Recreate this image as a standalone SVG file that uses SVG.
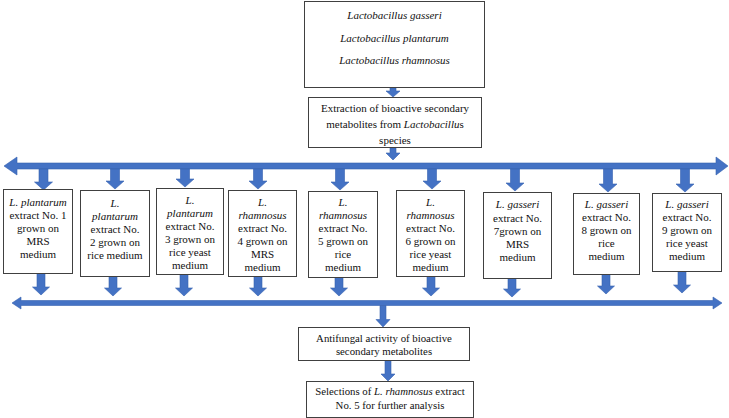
<svg xmlns="http://www.w3.org/2000/svg" width="729" height="418" viewBox="0 0 729 418">
<style>
.box{fill:#fff;stroke:#404040;stroke-width:1}
.t{font-family:"Liberation Serif","Times New Roman","DejaVu Serif",serif;font-size:11px;fill:#111;text-anchor:middle}
.s{font-size:10.8px}
.i{font-style:italic}
.ar{fill:#4472C4;stroke:#3561b0;stroke-width:0.6}
</style>
<rect width="729" height="418" fill="#fff"/>
<g id="connectors">
<path class="ar" d="M390,88 h6 v3 h4 l-7,6 l-7,-6 h4 z"/>
<path class="ar" d="M390,148 h6 v5 h4 l-7,7 l-7,-7 h4 z"/>
<path class="ar" d="M4,166 L17,157 V163 H716 V157 L728,166 L716,175 V169 H17 V175 Z"/>
<path class="ar" d="M39,169 h9 v13 h4.5 l-9,8 l-9,-8 h4.5 z"/>
<path class="ar" d="M110.5,169 h9 v12 h4.5 l-9,8 l-9,-8 h4.5 z"/>
<path class="ar" d="M180.5,169 h9 v10 h4.5 l-9,8 l-9,-8 h4.5 z"/>
<path class="ar" d="M253.5,169 h9 v12 h4.5 l-9,8 l-9,-8 h4.5 z"/>
<path class="ar" d="M335.5,169 h9 v13 h4.5 l-9,8 l-9,-8 h4.5 z"/>
<path class="ar" d="M427.5,169 h9 v12 h4.5 l-9,8 l-9,-8 h4.5 z"/>
<path class="ar" d="M510.5,169 h9 v14 h4.5 l-9,8 l-9,-8 h4.5 z"/>
<path class="ar" d="M603.5,169 h9 v15 h4.5 l-9,8 l-9,-8 h4.5 z"/>
<path class="ar" d="M680.5,169 h9 v15 h4.5 l-9,8 l-9,-8 h4.5 z"/>
<path class="ar" d="M37,273 h8 v14 h4.5 l-8.5,8 l-8.5,-8 h4.5 z"/>
<path class="ar" d="M109,276 h8 v12 h4.5 l-8.5,8 l-8.5,-8 h4.5 z"/>
<path class="ar" d="M180,274 h8 v14 h4.5 l-8.5,8 l-8.5,-8 h4.5 z"/>
<path class="ar" d="M254,276 h8 v12 h4.5 l-8.5,8 l-8.5,-8 h4.5 z"/>
<path class="ar" d="M335,277 h8 v11 h4.5 l-8.5,8 l-8.5,-8 h4.5 z"/>
<path class="ar" d="M427,276 h8 v12 h4.5 l-8.5,8 l-8.5,-8 h4.5 z"/>
<path class="ar" d="M508,278 h8 v11 h4.5 l-8.5,8 l-8.5,-8 h4.5 z"/>
<path class="ar" d="M602,274 h8 v12 h4.5 l-8.5,8 l-8.5,-8 h4.5 z"/>
<path class="ar" d="M678,271 h8 v14 h4.5 l-8.5,8 l-8.5,-8 h4.5 z"/>
<path class="ar" d="M12,303 L21,297 V300.5 H713 V297 L722,303 L713,309 V305.5 H21 V309 Z"/>
<path class="ar" d="M380,305.5 h6 v14 h4 l-7,7.5 l-7,-7.5 h4 z"/>
<path class="ar" d="M385,360 h6 v14 h4 l-7,7 l-7,-7 h4 z"/>
</g>
<g id="n-species">
<rect class="box" x="304.5" y="1.5" width="180" height="86"/>
<text class="t i" x="394.5" y="19">Lactobacillus gasseri</text>
<text class="t i" x="394.5" y="42">Lactobacillus plantarum</text>
<text class="t i" x="394.5" y="64">Lactobacillus rhamnosus</text>
</g>
<g id="n-extraction">
<rect class="box" x="308.5" y="97.5" width="173" height="50"/>
<text class="t" x="395" y="112">Extraction of bioactive secondary</text>
<text class="t" x="395" y="128">metabolites from <tspan class="i">Lactobacillu</tspan>s</text>
<text class="t" x="395" y="144">species</text>
</g>
<g id="n-ex1">
<rect class="box" x="3.5" y="189.5" width="69" height="84"/>
<text class="t i" x="38" y="206">L. plantarum</text>
<text class="t" x="38" y="219">extract No. 1</text>
<text class="t" x="38" y="232">grown on</text>
<text class="t" x="38" y="245">MRS</text>
<text class="t" x="38" y="258">medium</text>
</g>
<g id="n-ex2">
<rect class="box" x="80.5" y="190.5" width="69" height="86"/>
<text class="t i" x="115" y="207" font-size="12px">L.</text>
<text class="t i" x="115" y="220">plantarum</text>
<text class="t" x="115" y="233">extract No.</text>
<text class="t" x="115" y="246">2 grown on</text>
<text class="t" x="115" y="259">rice medium</text>
</g>
<g id="n-ex3">
<rect class="box" x="156.5" y="188.5" width="67" height="86"/>
<text class="t i" x="190" y="204">L.</text>
<text class="t i" x="190" y="217">plantarum</text>
<text class="t" x="190" y="230">extract No.</text>
<text class="t" x="190" y="243">3 grown on</text>
<text class="t" x="190" y="256">rice yeast</text>
<text class="t" x="190" y="269">medium</text>
</g>
<g id="n-ex4">
<rect class="box" x="228.5" y="190.5" width="68" height="86"/>
<text class="t i" x="262.5" y="206">L.</text>
<text class="t i" x="262.5" y="219">rhamnosus</text>
<text class="t" x="262.5" y="232">extract No.</text>
<text class="t" x="262.5" y="245">4 grown on</text>
<text class="t" x="262.5" y="258">MRS</text>
<text class="t" x="262.5" y="271">medium</text>
</g>
<g id="n-ex5">
<rect class="box" x="308.5" y="191.5" width="69" height="86"/>
<text class="t i" x="343" y="206">L.</text>
<text class="t i" x="343" y="219">rhamnosus</text>
<text class="t" x="343" y="232">extract No.</text>
<text class="t" x="343" y="245">5 grown on</text>
<text class="t" x="343" y="258">rice</text>
<text class="t" x="343" y="271">medium</text>
</g>
<g id="n-ex6">
<rect class="box" x="396.5" y="190.5" width="68" height="86"/>
<text class="t i" x="430.5" y="206">L.</text>
<text class="t i" x="430.5" y="219">rhamnosus</text>
<text class="t" x="430.5" y="232">extract No.</text>
<text class="t" x="430.5" y="245">6 grown on</text>
<text class="t" x="430.5" y="258">rice yeast</text>
<text class="t" x="430.5" y="271">medium</text>
</g>
<g id="n-ex7">
<rect class="box" x="483.5" y="192.5" width="68" height="86"/>
<text class="t i" x="517.5" y="208">L. gasseri</text>
<text class="t" x="517.5" y="222">extract No.</text>
<text class="t" x="517.5" y="235">7grown on</text>
<text class="t" x="517.5" y="248">MRS</text>
<text class="t" x="517.5" y="261">medium</text>
</g>
<g id="n-ex8">
<rect class="box" x="573.5" y="193.5" width="66" height="81"/>
<text class="t i" x="606.5" y="208">L. gasseri</text>
<text class="t" x="606.5" y="221">extract No.</text>
<text class="t" x="606.5" y="234">8 grown on</text>
<text class="t" x="606.5" y="247">rice</text>
<text class="t" x="606.5" y="260">medium</text>
</g>
<g id="n-ex9">
<rect class="box" x="652.5" y="193.5" width="69" height="78"/>
<text class="t i" x="687" y="208">L. gasseri</text>
<text class="t" x="687" y="221">extract No.</text>
<text class="t" x="687" y="234">9 grown on</text>
<text class="t" x="687" y="247">rice yeast</text>
<text class="t" x="687" y="260">medium</text>
</g>
<g id="n-antifungal">
<rect class="box" x="298.5" y="327.5" width="171" height="33"/>
<text class="t s" x="384" y="342">Antifungal activity of bioactive</text>
<text class="t s" x="384" y="355">secondary metabolites</text>
</g>
<g id="n-selection">
<rect class="box" x="306.5" y="381.5" width="167" height="36"/>
<text class="t s" x="390" y="395">Selections of <tspan class="i">L. rhamnosus</tspan> extract</text>
<text class="t s" x="390" y="409">No. 5 for further analysis</text>
</g>
</svg>
